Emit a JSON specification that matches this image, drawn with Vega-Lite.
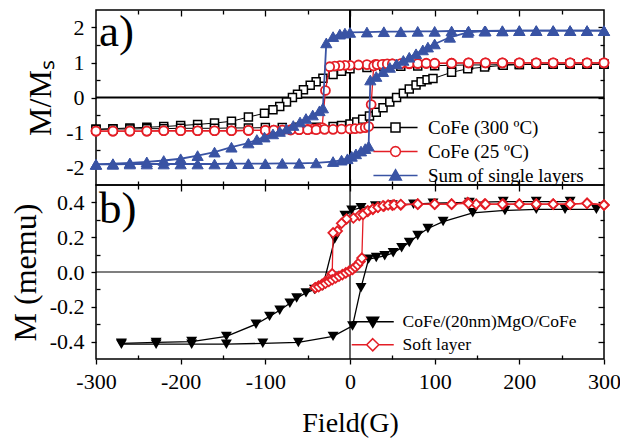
{
"$schema": "https://vega.github.io/schema/vega-lite/v6.json",
"background": "white",
"padding": {"left": 8, "top": 8, "right": 2, "bottom": 3},
"spacing": 0,
"bounds": "flush",
"config": {
  "view": {"stroke": "black", "strokeWidth": 1.5},
  "font": "Liberation Serif",
  "style": {"guide-label": {"font": "Liberation Serif"}, "guide-title": {"font": "Liberation Serif"}},
  "axis": {"grid": false, "domain": false, "tickColor": "black", "tickWidth": 1.3, "labelColor": "black", "labelFont": "Liberation Serif", "labelFontSize": 22, "labelFlush": false, "labelOverlap": false, "labelBound": false, "titleFont": "Liberation Serif", "titleFontWeight": "normal", "titleColor": "black"},
  "legend": {"labelFont": "Liberation Serif", "labelColor": "black", "labelLimit": 400}
},
"resolve": {"scale": {"color": "independent", "fill": "independent", "shape": "independent"}, "legend": {"color": "independent", "fill": "independent", "shape": "independent"}},
"vconcat": [
 {
  "width": 508, "height": 175,
  "resolve": {"axis": {"x": "independent", "y": "independent"}},
  "layer": [
   {"data": {"values": [{"z": 0}]}, "mark": {"type": "rule", "color": "black", "strokeWidth": 2},
    "encoding": {"y": {"field": "z", "type": "quantitative", "scale": {"domain": [-2.5, 2.5], "nice": false, "zero": false},
      "axis": {"orient": "right", "values": [-2,-1.5,-1,-0.5,0,0.5,1,1.5,2], "labels": false, "title": null, "tickSize": {"condition": {"test": "datum.value % 1 !== 0", "value": -4}, "value": -6}}}}},
   {"data": {"values": [{"z": 0}]}, "mark": {"type": "rule", "color": "black", "strokeWidth": 2},
    "encoding": {"x": {"field": "z", "type": "quantitative", "scale": {"domain": [-300, 300], "nice": false, "zero": false},
      "axis": {"orient": "top", "values": [-250,-200,-150,-100,-50,0,50,100,150,200,250], "labels": false, "title": null, "tickSize": {"condition": {"test": "datum.value % 100 !== 0", "value": -4}, "value": -6}}}}},
   {"data": {"values": [
{"s":"CoFe (300 ºC)","b":"d","x":300,"y":0.95},{"s":"CoFe (300 ºC)","b":"d","x":280,"y":0.95},{"s":"CoFe (300 ºC)","b":"d","x":260,"y":0.95},{"s":"CoFe (300 ºC)","b":"d","x":240,"y":0.95},{"s":"CoFe (300 ºC)","b":"d","x":220,"y":0.95},{"s":"CoFe (300 ºC)","b":"d","x":200,"y":0.94},{"s":"CoFe (300 ºC)","b":"d","x":180,"y":0.94},{"s":"CoFe (300 ºC)","b":"d","x":160,"y":0.93},{"s":"CoFe (300 ºC)","b":"d","x":140,"y":0.93},{"s":"CoFe (300 ºC)","b":"d","x":120,"y":0.92},{"s":"CoFe (300 ºC)","b":"d","x":100,"y":0.91},{"s":"CoFe (300 ºC)","b":"d","x":80,"y":0.9},{"s":"CoFe (300 ºC)","b":"d","x":60,"y":0.89},{"s":"CoFe (300 ºC)","b":"d","x":40,"y":0.88},{"s":"CoFe (300 ºC)","b":"d","x":20,"y":0.86},{"s":"CoFe (300 ºC)","b":"d","x":0,"y":0.82},{"s":"CoFe (300 ºC)","b":"d","x":-10,"y":0.75},{"s":"CoFe (300 ºC)","b":"d","x":-20,"y":0.66},{"s":"CoFe (300 ºC)","b":"d","x":-32,"y":0.55},{"s":"CoFe (300 ºC)","b":"d","x":-40,"y":0.45},{"s":"CoFe (300 ºC)","b":"d","x":-47,"y":0.35},{"s":"CoFe (300 ºC)","b":"d","x":-55,"y":0.22},{"s":"CoFe (300 ºC)","b":"d","x":-62,"y":0.09},{"s":"CoFe (300 ºC)","b":"d","x":-68,"y":0.0},{"s":"CoFe (300 ºC)","b":"d","x":-75,"y":-0.13},{"s":"CoFe (300 ºC)","b":"d","x":-83,"y":-0.26},{"s":"CoFe (300 ºC)","b":"d","x":-91,"y":-0.35},{"s":"CoFe (300 ºC)","b":"d","x":-101,"y":-0.45},{"s":"CoFe (300 ºC)","b":"d","x":-120,"y":-0.56},{"s":"CoFe (300 ºC)","b":"d","x":-140,"y":-0.68},{"s":"CoFe (300 ºC)","b":"d","x":-160,"y":-0.73},{"s":"CoFe (300 ºC)","b":"d","x":-180,"y":-0.77},{"s":"CoFe (300 ºC)","b":"d","x":-200,"y":-0.8},{"s":"CoFe (300 ºC)","b":"d","x":-220,"y":-0.83},{"s":"CoFe (300 ºC)","b":"d","x":-240,"y":-0.85},{"s":"CoFe (300 ºC)","b":"d","x":-260,"y":-0.87},{"s":"CoFe (300 ºC)","b":"d","x":-280,"y":-0.89},{"s":"CoFe (300 ºC)","b":"d","x":-300,"y":-0.91},
{"s":"CoFe (300 ºC)","b":"u","x":-300,"y":-0.91},{"s":"CoFe (300 ºC)","b":"u","x":-280,"y":-0.9},{"s":"CoFe (300 ºC)","b":"u","x":-260,"y":-0.9},{"s":"CoFe (300 ºC)","b":"u","x":-240,"y":-0.89},{"s":"CoFe (300 ºC)","b":"u","x":-220,"y":-0.89},{"s":"CoFe (300 ºC)","b":"u","x":-200,"y":-0.88},{"s":"CoFe (300 ºC)","b":"u","x":-180,"y":-0.88},{"s":"CoFe (300 ºC)","b":"u","x":-160,"y":-0.88},{"s":"CoFe (300 ºC)","b":"u","x":-140,"y":-0.87},{"s":"CoFe (300 ºC)","b":"u","x":-120,"y":-0.87},{"s":"CoFe (300 ºC)","b":"u","x":-100,"y":-0.86},{"s":"CoFe (300 ºC)","b":"u","x":-80,"y":-0.86},{"s":"CoFe (300 ºC)","b":"u","x":-60,"y":-0.85},{"s":"CoFe (300 ºC)","b":"u","x":-40,"y":-0.85},{"s":"CoFe (300 ºC)","b":"u","x":-20,"y":-0.83},{"s":"CoFe (300 ºC)","b":"u","x":-10,"y":-0.8},{"s":"CoFe (300 ºC)","b":"u","x":0,"y":-0.76},{"s":"CoFe (300 ºC)","b":"u","x":8,"y":-0.7},{"s":"CoFe (300 ºC)","b":"u","x":15,"y":-0.62},{"s":"CoFe (300 ºC)","b":"u","x":23,"y":-0.53},{"s":"CoFe (300 ºC)","b":"u","x":31,"y":-0.42},{"s":"CoFe (300 ºC)","b":"u","x":39,"y":-0.29},{"s":"CoFe (300 ºC)","b":"u","x":47,"y":-0.13},{"s":"CoFe (300 ºC)","b":"u","x":55,"y":0.0},{"s":"CoFe (300 ºC)","b":"u","x":63,"y":0.12},{"s":"CoFe (300 ºC)","b":"u","x":70,"y":0.24},{"s":"CoFe (300 ºC)","b":"u","x":78,"y":0.36},{"s":"CoFe (300 ºC)","b":"u","x":84,"y":0.45},{"s":"CoFe (300 ºC)","b":"u","x":91,"y":0.51},{"s":"CoFe (300 ºC)","b":"u","x":98,"y":0.54},{"s":"CoFe (300 ºC)","b":"u","x":120,"y":0.72},{"s":"CoFe (300 ºC)","b":"u","x":139,"y":0.82},{"s":"CoFe (300 ºC)","b":"u","x":159,"y":0.87},{"s":"CoFe (300 ºC)","b":"u","x":181,"y":0.92},{"s":"CoFe (300 ºC)","b":"u","x":200,"y":0.94},{"s":"CoFe (300 ºC)","b":"u","x":220,"y":0.95},{"s":"CoFe (300 ºC)","b":"u","x":240,"y":0.95},{"s":"CoFe (300 ºC)","b":"u","x":260,"y":0.95},{"s":"CoFe (300 ºC)","b":"u","x":280,"y":0.95},{"s":"CoFe (300 ºC)","b":"u","x":300,"y":0.95},
{"s":"CoFe (25 ºC)","b":"d","x":300,"y":0.99},{"s":"CoFe (25 ºC)","b":"d","x":280,"y":0.99},{"s":"CoFe (25 ºC)","b":"d","x":260,"y":0.99},{"s":"CoFe (25 ºC)","b":"d","x":240,"y":0.99},{"s":"CoFe (25 ºC)","b":"d","x":220,"y":0.99},{"s":"CoFe (25 ºC)","b":"d","x":200,"y":0.99},{"s":"CoFe (25 ºC)","b":"d","x":180,"y":0.99},{"s":"CoFe (25 ºC)","b":"d","x":160,"y":0.99},{"s":"CoFe (25 ºC)","b":"d","x":140,"y":0.99},{"s":"CoFe (25 ºC)","b":"d","x":120,"y":0.98},{"s":"CoFe (25 ºC)","b":"d","x":100,"y":0.97},{"s":"CoFe (25 ºC)","b":"d","x":90,"y":0.97},{"s":"CoFe (25 ºC)","b":"d","x":80,"y":0.97},{"s":"CoFe (25 ºC)","b":"d","x":70,"y":0.96},{"s":"CoFe (25 ºC)","b":"d","x":60,"y":0.96},{"s":"CoFe (25 ºC)","b":"d","x":50,"y":0.96},{"s":"CoFe (25 ºC)","b":"d","x":40,"y":0.95},{"s":"CoFe (25 ºC)","b":"d","x":30,"y":0.95},{"s":"CoFe (25 ºC)","b":"d","x":20,"y":0.94},{"s":"CoFe (25 ºC)","b":"d","x":10,"y":0.93},{"s":"CoFe (25 ºC)","b":"d","x":0,"y":0.92},{"s":"CoFe (25 ºC)","b":"d","x":-6,"y":0.92},{"s":"CoFe (25 ºC)","b":"d","x":-12,"y":0.91},{"s":"CoFe (25 ºC)","b":"d","x":-18,"y":0.9},{"s":"CoFe (25 ºC)","b":"d","x":-24,"y":0.88},{"s":"CoFe (25 ºC)","b":"d","x":-29,"y":0.2},{"s":"CoFe (25 ºC)","b":"d","x":-33,"y":-0.86},{"s":"CoFe (25 ºC)","b":"d","x":-38,"y":-0.89},{"s":"CoFe (25 ºC)","b":"d","x":-44,"y":-0.9},{"s":"CoFe (25 ºC)","b":"d","x":-50,"y":-0.91},{"s":"CoFe (25 ºC)","b":"d","x":-60,"y":-0.92},{"s":"CoFe (25 ºC)","b":"d","x":-70,"y":-0.92},{"s":"CoFe (25 ºC)","b":"d","x":-80,"y":-0.93},{"s":"CoFe (25 ºC)","b":"d","x":-90,"y":-0.93},{"s":"CoFe (25 ºC)","b":"d","x":-100,"y":-0.94},{"s":"CoFe (25 ºC)","b":"d","x":-120,"y":-0.94},{"s":"CoFe (25 ºC)","b":"d","x":-140,"y":-0.95},{"s":"CoFe (25 ºC)","b":"d","x":-160,"y":-0.95},{"s":"CoFe (25 ºC)","b":"d","x":-180,"y":-0.95},{"s":"CoFe (25 ºC)","b":"d","x":-200,"y":-0.95},{"s":"CoFe (25 ºC)","b":"d","x":-220,"y":-0.95},{"s":"CoFe (25 ºC)","b":"d","x":-240,"y":-0.96},{"s":"CoFe (25 ºC)","b":"d","x":-260,"y":-0.96},{"s":"CoFe (25 ºC)","b":"d","x":-280,"y":-0.96},{"s":"CoFe (25 ºC)","b":"d","x":-300,"y":-0.96},
{"s":"CoFe (25 ºC)","b":"u","x":-300,"y":-0.96},{"s":"CoFe (25 ºC)","b":"u","x":-280,"y":-0.96},{"s":"CoFe (25 ºC)","b":"u","x":-260,"y":-0.96},{"s":"CoFe (25 ºC)","b":"u","x":-240,"y":-0.96},{"s":"CoFe (25 ºC)","b":"u","x":-220,"y":-0.95},{"s":"CoFe (25 ºC)","b":"u","x":-200,"y":-0.95},{"s":"CoFe (25 ºC)","b":"u","x":-180,"y":-0.95},{"s":"CoFe (25 ºC)","b":"u","x":-160,"y":-0.95},{"s":"CoFe (25 ºC)","b":"u","x":-140,"y":-0.95},{"s":"CoFe (25 ºC)","b":"u","x":-120,"y":-0.94},{"s":"CoFe (25 ºC)","b":"u","x":-100,"y":-0.94},{"s":"CoFe (25 ºC)","b":"u","x":-90,"y":-0.93},{"s":"CoFe (25 ºC)","b":"u","x":-80,"y":-0.93},{"s":"CoFe (25 ºC)","b":"u","x":-70,"y":-0.93},{"s":"CoFe (25 ºC)","b":"u","x":-60,"y":-0.92},{"s":"CoFe (25 ºC)","b":"u","x":-50,"y":-0.92},{"s":"CoFe (25 ºC)","b":"u","x":-40,"y":-0.92},{"s":"CoFe (25 ºC)","b":"u","x":-30,"y":-0.91},{"s":"CoFe (25 ºC)","b":"u","x":-20,"y":-0.91},{"s":"CoFe (25 ºC)","b":"u","x":-10,"y":-0.9},{"s":"CoFe (25 ºC)","b":"u","x":0,"y":-0.9},{"s":"CoFe (25 ºC)","b":"u","x":6,"y":-0.89},{"s":"CoFe (25 ºC)","b":"u","x":12,"y":-0.88},{"s":"CoFe (25 ºC)","b":"u","x":18,"y":-0.86},{"s":"CoFe (25 ºC)","b":"u","x":22,"y":-0.83},{"s":"CoFe (25 ºC)","b":"u","x":25,"y":-0.2},{"s":"CoFe (25 ºC)","b":"u","x":28,"y":0.9},{"s":"CoFe (25 ºC)","b":"u","x":32,"y":0.94},{"s":"CoFe (25 ºC)","b":"u","x":38,"y":0.95},{"s":"CoFe (25 ºC)","b":"u","x":44,"y":0.96},{"s":"CoFe (25 ºC)","b":"u","x":50,"y":0.96},{"s":"CoFe (25 ºC)","b":"u","x":60,"y":0.97},{"s":"CoFe (25 ºC)","b":"u","x":70,"y":0.97},{"s":"CoFe (25 ºC)","b":"u","x":80,"y":0.97},{"s":"CoFe (25 ºC)","b":"u","x":90,"y":0.98},{"s":"CoFe (25 ºC)","b":"u","x":100,"y":0.98},{"s":"CoFe (25 ºC)","b":"u","x":120,"y":0.98},{"s":"CoFe (25 ºC)","b":"u","x":140,"y":0.99},{"s":"CoFe (25 ºC)","b":"u","x":160,"y":0.99},{"s":"CoFe (25 ºC)","b":"u","x":180,"y":0.99},{"s":"CoFe (25 ºC)","b":"u","x":200,"y":0.99},{"s":"CoFe (25 ºC)","b":"u","x":220,"y":0.99},{"s":"CoFe (25 ºC)","b":"u","x":240,"y":0.99},{"s":"CoFe (25 ºC)","b":"u","x":260,"y":0.99},{"s":"CoFe (25 ºC)","b":"u","x":280,"y":0.99},{"s":"CoFe (25 ºC)","b":"u","x":300,"y":0.99},
{"s":"Sum of single layers","b":"d","x":300,"y":1.91},{"s":"Sum of single layers","b":"d","x":280,"y":1.91},{"s":"Sum of single layers","b":"d","x":260,"y":1.91},{"s":"Sum of single layers","b":"d","x":240,"y":1.91},{"s":"Sum of single layers","b":"d","x":220,"y":1.91},{"s":"Sum of single layers","b":"d","x":200,"y":1.91},{"s":"Sum of single layers","b":"d","x":180,"y":1.9},{"s":"Sum of single layers","b":"d","x":160,"y":1.9},{"s":"Sum of single layers","b":"d","x":140,"y":1.9},{"s":"Sum of single layers","b":"d","x":120,"y":1.9},{"s":"Sum of single layers","b":"d","x":100,"y":1.89},{"s":"Sum of single layers","b":"d","x":80,"y":1.89},{"s":"Sum of single layers","b":"d","x":60,"y":1.88},{"s":"Sum of single layers","b":"d","x":40,"y":1.88},{"s":"Sum of single layers","b":"d","x":20,"y":1.87},{"s":"Sum of single layers","b":"d","x":0,"y":1.86},{"s":"Sum of single layers","b":"d","x":-6,"y":1.84},{"s":"Sum of single layers","b":"d","x":-12,"y":1.81},{"s":"Sum of single layers","b":"d","x":-20,"y":1.74},{"s":"Sum of single layers","b":"d","x":-28,"y":1.56},{"s":"Sum of single layers","b":"d","x":-32,"y":-0.3},{"s":"Sum of single layers","b":"d","x":-36,"y":-0.38},{"s":"Sum of single layers","b":"d","x":-44,"y":-0.5},{"s":"Sum of single layers","b":"d","x":-52,"y":-0.6},{"s":"Sum of single layers","b":"d","x":-59,"y":-0.7},{"s":"Sum of single layers","b":"d","x":-67,"y":-0.8},{"s":"Sum of single layers","b":"d","x":-75,"y":-0.9},{"s":"Sum of single layers","b":"d","x":-83,"y":-0.97},{"s":"Sum of single layers","b":"d","x":-91,"y":-1.04},{"s":"Sum of single layers","b":"d","x":-101,"y":-1.13},{"s":"Sum of single layers","b":"d","x":-110,"y":-1.2},{"s":"Sum of single layers","b":"d","x":-120,"y":-1.3},{"s":"Sum of single layers","b":"d","x":-140,"y":-1.42},{"s":"Sum of single layers","b":"d","x":-160,"y":-1.56},{"s":"Sum of single layers","b":"d","x":-180,"y":-1.66},{"s":"Sum of single layers","b":"d","x":-200,"y":-1.75},{"s":"Sum of single layers","b":"d","x":-220,"y":-1.8},{"s":"Sum of single layers","b":"d","x":-240,"y":-1.84},{"s":"Sum of single layers","b":"d","x":-260,"y":-1.87},{"s":"Sum of single layers","b":"d","x":-280,"y":-1.89},{"s":"Sum of single layers","b":"d","x":-300,"y":-1.91},
{"s":"Sum of single layers","b":"u","x":-300,"y":-1.91},{"s":"Sum of single layers","b":"u","x":-280,"y":-1.91},{"s":"Sum of single layers","b":"u","x":-260,"y":-1.9},{"s":"Sum of single layers","b":"u","x":-240,"y":-1.9},{"s":"Sum of single layers","b":"u","x":-220,"y":-1.9},{"s":"Sum of single layers","b":"u","x":-200,"y":-1.9},{"s":"Sum of single layers","b":"u","x":-180,"y":-1.9},{"s":"Sum of single layers","b":"u","x":-160,"y":-1.9},{"s":"Sum of single layers","b":"u","x":-140,"y":-1.89},{"s":"Sum of single layers","b":"u","x":-120,"y":-1.89},{"s":"Sum of single layers","b":"u","x":-100,"y":-1.89},{"s":"Sum of single layers","b":"u","x":-80,"y":-1.88},{"s":"Sum of single layers","b":"u","x":-60,"y":-1.88},{"s":"Sum of single layers","b":"u","x":-40,"y":-1.87},{"s":"Sum of single layers","b":"u","x":-20,"y":-1.83},{"s":"Sum of single layers","b":"u","x":-10,"y":-1.79},{"s":"Sum of single layers","b":"u","x":-3,"y":-1.75},{"s":"Sum of single layers","b":"u","x":2,"y":-1.68},{"s":"Sum of single layers","b":"u","x":7,"y":-1.61},{"s":"Sum of single layers","b":"u","x":13,"y":-1.53},{"s":"Sum of single layers","b":"u","x":18,"y":-1.46},{"s":"Sum of single layers","b":"u","x":22,"y":-1.39},{"s":"Sum of single layers","b":"u","x":24,"y":0.5},{"s":"Sum of single layers","b":"u","x":31,"y":0.6},{"s":"Sum of single layers","b":"u","x":39,"y":0.74},{"s":"Sum of single layers","b":"u","x":47,"y":0.86},{"s":"Sum of single layers","b":"u","x":55,"y":0.96},{"s":"Sum of single layers","b":"u","x":63,"y":1.06},{"s":"Sum of single layers","b":"u","x":70,"y":1.15},{"s":"Sum of single layers","b":"u","x":78,"y":1.25},{"s":"Sum of single layers","b":"u","x":86,"y":1.36},{"s":"Sum of single layers","b":"u","x":92,"y":1.44},{"s":"Sum of single layers","b":"u","x":100,"y":1.53},{"s":"Sum of single layers","b":"u","x":118,"y":1.72},{"s":"Sum of single layers","b":"u","x":139,"y":1.86},{"s":"Sum of single layers","b":"u","x":159,"y":1.9},{"s":"Sum of single layers","b":"u","x":180,"y":1.91},{"s":"Sum of single layers","b":"u","x":200,"y":1.91},{"s":"Sum of single layers","b":"u","x":220,"y":1.91},{"s":"Sum of single layers","b":"u","x":240,"y":1.91},{"s":"Sum of single layers","b":"u","x":260,"y":1.91},{"s":"Sum of single layers","b":"u","x":280,"y":1.91},{"s":"Sum of single layers","b":"u","x":300,"y":1.91}
    ]},
    "encoding": {
      "x": {"field": "x", "type": "quantitative", "scale": {"domain": [-300, 300], "nice": false, "zero": false},
        "axis": {"orient": "bottom", "values": [-250,-200,-150,-100,-50,0,50,100,150,200,250], "labels": false, "title": null, "tickSize": {"condition": {"test": "datum.value % 100 !== 0", "value": -4}, "value": -6}}},
      "y": {"field": "y", "type": "quantitative", "scale": {"domain": [-2.5, 2.5], "nice": false, "zero": false},
        "axis": {"orient": "left", "values": [-2,-1.5,-1,-0.5,0,0.5,1,1.5,2], "labelExpr": "datum.value % 1 !== 0 ? '' : (datum.value < 0 ? '-' : '') + abs(datum.value)", "tickSize": {"condition": {"test": "datum.value % 1 !== 0", "value": -4}, "value": 5}, "labelPadding": 7, "labelFont": "Liberation Serif", "labelFontSize": 22, "minExtent": 30, "maxExtent": 30, "title": "M/Mₛ", "titleFont": "Liberation Serif", "titleFontSize": 32, "titlePadding": 9}},
      "detail": {"field": "b"}
    },
    "layer": [
      {"transform": [{"filter": {"field": "s", "equal": "CoFe (300 ºC)"}}], "mark": {"type": "line", "color": "black", "strokeWidth": 1}},
      {"transform": [{"filter": {"field": "s", "equal": "CoFe (300 ºC)"}}], "mark": {"type": "point", "shape": "square", "size": 64, "filled": false, "fill": "white", "stroke": "black", "strokeWidth": 1.5, "opacity": 1}},
      {"transform": [{"filter": {"field": "s", "equal": "CoFe (25 ºC)"}}], "mark": {"type": "line", "color": "#e41e26", "strokeWidth": 1.3}},
      {"transform": [{"filter": {"field": "s", "equal": "CoFe (25 ºC)"}}], "mark": {"type": "point", "shape": "circle", "size": 80, "filled": false, "fill": "white", "stroke": "#e41e26", "strokeWidth": 1.8, "opacity": 1}},
      {"transform": [{"filter": {"field": "s", "equal": "Sum of single layers"}}], "mark": {"type": "line", "color": "#3953a4", "strokeWidth": 1.8}},
      {"transform": [{"filter": {"field": "s", "equal": "Sum of single layers"}}], "mark": {"type": "point", "shape": "triangle-up", "size": 125, "filled": false, "fill": "#3953a4", "stroke": "#3953a4", "strokeWidth": 1, "opacity": 1}},
      {"mark": {"type": "point", "filled": false, "opacity": 0},
       "encoding": {
        "color": {"field": "s", "type": "nominal", "scale": {"domain": ["CoFe (300 ºC)", "CoFe (25 ºC)", "Sum of single layers"], "range": ["black", "#e41e26", "#3953a4"]},
          "legend": {"title": null, "orient": "none", "legendX": 290, "legendY": 108, "padding": 0, "symbolSize": 81, "symbolStrokeWidth": 1.5, "symbolOffset": 0, "labelOffset": 23, "labelFontSize": 19, "rowPadding": 4, "symbolOpacity": 1}},
        "fill": {"field": "s", "type": "nominal", "scale": {"domain": ["CoFe (300 ºC)", "CoFe (25 ºC)", "Sum of single layers"], "range": ["white", "white", "#3953a4"]},
          "legend": {"title": null, "orient": "none", "legendX": 290, "legendY": 108, "padding": 0, "symbolSize": 81, "symbolStrokeWidth": 1.5, "symbolOffset": 0, "labelOffset": 23, "labelFontSize": 19, "rowPadding": 4, "symbolOpacity": 1}},
        "shape": {"field": "s", "type": "nominal", "scale": {"domain": ["CoFe (300 ºC)", "CoFe (25 ºC)", "Sum of single layers"], "range": ["M-4.9,0H-1M1,0H4.9M-1,-1H1V1H-1Z", "M-4.9,0H-1.1M1.1,0H4.9M1.1,0L0.95,0.55L0.55,0.95L0,1.1L-0.55,0.95L-0.95,0.55L-1.1,0L-0.95,-0.55L-0.55,-0.95L0,-1.1L0.55,-0.95L0.95,-0.55Z", "M-4.9,0H4.9M0,-1.3L1.3,1H-1.3Z"]},
          "legend": {"title": null, "orient": "none", "legendX": 290, "legendY": 108, "padding": 0, "symbolSize": 81, "symbolStrokeWidth": 1.5, "symbolOffset": 0, "labelOffset": 23, "labelFontSize": 19, "rowPadding": 4, "symbolOpacity": 1}}
       }}
    ]
   },
   {"data": {"values": [{"t": "a)"}]}, "mark": {"type": "text", "align": "left", "baseline": "alphabetic", "dx": 3, "dy": 36, "fontSize": 45, "font": "Liberation Serif", "color": "black"},
    "encoding": {"x": {"datum": -300, "type": "quantitative", "axis": null}, "y": {"datum": 2.5, "type": "quantitative", "axis": null}, "text": {"field": "t"}}}
  ]
 },
 {
  "width": 508, "height": 174,
  "resolve": {"axis": {"x": "independent", "y": "independent"}},
  "layer": [
   {"data": {"values": [{"z": 0}]}, "mark": {"type": "rule", "color": "black", "strokeWidth": 1.2},
    "encoding": {"y": {"field": "z", "type": "quantitative", "scale": {"domain": [-0.5, 0.5], "nice": false, "zero": false},
      "axis": {"orient": "right", "values": [-0.4,-0.3,-0.2,-0.1,0,0.1,0.2,0.3,0.4], "labels": false, "title": null, "tickSize": {"condition": {"test": "abs(round(datum.value * 10)) % 2 === 1", "value": -4}, "value": -6}}}}},
   {"data": {"values": [{"z": 0}]}, "mark": {"type": "rule", "color": "black", "strokeWidth": 1.2},
    "encoding": {"x": {"field": "z", "type": "quantitative", "scale": {"domain": [-300, 300], "nice": false, "zero": false},
      "axis": {"orient": "top", "values": [-250,-200,-150,-100,-50,0,50,100,150,200,250], "labels": false, "title": null, "tickSize": {"condition": {"test": "datum.value % 100 !== 0", "value": -4}, "value": -6}}}}},
   {"data": {"values": [
{"s":"CoFe/(20nm)MgO/CoFe","b":"d","x":260,"y":0.405},{"s":"CoFe/(20nm)MgO/CoFe","b":"d","x":220,"y":0.405},{"s":"CoFe/(20nm)MgO/CoFe","b":"d","x":181,"y":0.405},{"s":"CoFe/(20nm)MgO/CoFe","b":"d","x":141,"y":0.4},{"s":"CoFe/(20nm)MgO/CoFe","b":"d","x":98,"y":0.395},{"s":"CoFe/(20nm)MgO/CoFe","b":"d","x":75,"y":0.39},{"s":"CoFe/(20nm)MgO/CoFe","b":"d","x":50,"y":0.385},{"s":"CoFe/(20nm)MgO/CoFe","b":"d","x":30,"y":0.38},{"s":"CoFe/(20nm)MgO/CoFe","b":"d","x":13,"y":0.37},{"s":"CoFe/(20nm)MgO/CoFe","b":"d","x":2,"y":0.355},{"s":"CoFe/(20nm)MgO/CoFe","b":"d","x":-6,"y":0.325},{"s":"CoFe/(20nm)MgO/CoFe","b":"d","x":-18,"y":0.19},{"s":"CoFe/(20nm)MgO/CoFe","b":"d","x":-32,"y":-0.08},{"s":"CoFe/(20nm)MgO/CoFe","b":"d","x":-42,"y":-0.1},{"s":"CoFe/(20nm)MgO/CoFe","b":"d","x":-52,"y":-0.12},{"s":"CoFe/(20nm)MgO/CoFe","b":"d","x":-63,"y":-0.15},{"s":"CoFe/(20nm)MgO/CoFe","b":"d","x":-71,"y":-0.18},{"s":"CoFe/(20nm)MgO/CoFe","b":"d","x":-83,"y":-0.22},{"s":"CoFe/(20nm)MgO/CoFe","b":"d","x":-95,"y":-0.255},{"s":"CoFe/(20nm)MgO/CoFe","b":"d","x":-111,"y":-0.3},{"s":"CoFe/(20nm)MgO/CoFe","b":"d","x":-146,"y":-0.37},{"s":"CoFe/(20nm)MgO/CoFe","b":"d","x":-187,"y":-0.4},{"s":"CoFe/(20nm)MgO/CoFe","b":"d","x":-229,"y":-0.405},{"s":"CoFe/(20nm)MgO/CoFe","b":"d","x":-270,"y":-0.41},
{"s":"CoFe/(20nm)MgO/CoFe","b":"u","x":-270,"y":-0.415},{"s":"CoFe/(20nm)MgO/CoFe","b":"u","x":-229,"y":-0.415},{"s":"CoFe/(20nm)MgO/CoFe","b":"u","x":-187,"y":-0.415},{"s":"CoFe/(20nm)MgO/CoFe","b":"u","x":-146,"y":-0.415},{"s":"CoFe/(20nm)MgO/CoFe","b":"u","x":-103,"y":-0.41},{"s":"CoFe/(20nm)MgO/CoFe","b":"u","x":-61,"y":-0.405},{"s":"CoFe/(20nm)MgO/CoFe","b":"u","x":-20,"y":-0.37},{"s":"CoFe/(20nm)MgO/CoFe","b":"u","x":3,"y":-0.31},{"s":"CoFe/(20nm)MgO/CoFe","b":"u","x":13,"y":-0.09},{"s":"CoFe/(20nm)MgO/CoFe","b":"u","x":22,"y":0.074},{"s":"CoFe/(20nm)MgO/CoFe","b":"u","x":31,"y":0.083},{"s":"CoFe/(20nm)MgO/CoFe","b":"u","x":41,"y":0.093},{"s":"CoFe/(20nm)MgO/CoFe","b":"u","x":51,"y":0.11},{"s":"CoFe/(20nm)MgO/CoFe","b":"u","x":61,"y":0.14},{"s":"CoFe/(20nm)MgO/CoFe","b":"u","x":70,"y":0.17},{"s":"CoFe/(20nm)MgO/CoFe","b":"u","x":80,"y":0.21},{"s":"CoFe/(20nm)MgO/CoFe","b":"u","x":92,"y":0.25},{"s":"CoFe/(20nm)MgO/CoFe","b":"u","x":110,"y":0.29},{"s":"CoFe/(20nm)MgO/CoFe","b":"u","x":145,"y":0.34},{"s":"CoFe/(20nm)MgO/CoFe","b":"u","x":183,"y":0.354},{"s":"CoFe/(20nm)MgO/CoFe","b":"u","x":220,"y":0.36},{"s":"CoFe/(20nm)MgO/CoFe","b":"u","x":254,"y":0.36},{"s":"CoFe/(20nm)MgO/CoFe","b":"u","x":291,"y":0.36},
{"s":"Soft layer","b":"d","x":300,"y":0.385},{"s":"Soft layer","b":"d","x":280,"y":0.395},{"s":"Soft layer","b":"d","x":260,"y":0.39},{"s":"Soft layer","b":"d","x":240,"y":0.39},{"s":"Soft layer","b":"d","x":220,"y":0.39},{"s":"Soft layer","b":"d","x":200,"y":0.39},{"s":"Soft layer","b":"d","x":181,"y":0.39},{"s":"Soft layer","b":"d","x":159,"y":0.39},{"s":"Soft layer","b":"d","x":149,"y":0.39},{"s":"Soft layer","b":"d","x":139,"y":0.4},{"s":"Soft layer","b":"d","x":120,"y":0.39},{"s":"Soft layer","b":"d","x":100,"y":0.39},{"s":"Soft layer","b":"d","x":80,"y":0.39},{"s":"Soft layer","b":"d","x":60,"y":0.385},{"s":"Soft layer","b":"d","x":50,"y":0.383},{"s":"Soft layer","b":"d","x":40,"y":0.378},{"s":"Soft layer","b":"d","x":33,"y":0.372},{"s":"Soft layer","b":"d","x":27,"y":0.36},{"s":"Soft layer","b":"d","x":21,"y":0.348},{"s":"Soft layer","b":"d","x":15,"y":0.335},{"s":"Soft layer","b":"d","x":11,"y":0.325},{"s":"Soft layer","b":"d","x":4,"y":0.31},{"s":"Soft layer","b":"d","x":-4,"y":0.305},{"s":"Soft layer","b":"d","x":-10,"y":0.28},{"s":"Soft layer","b":"d","x":-15,"y":0.235},{"s":"Soft layer","b":"d","x":-20,"y":0.225},{"s":"Soft layer","b":"d","x":-21,"y":-0.01},{"s":"Soft layer","b":"d","x":-25,"y":-0.04},{"s":"Soft layer","b":"d","x":-29,"y":-0.055},{"s":"Soft layer","b":"d","x":-33,"y":-0.07},{"s":"Soft layer","b":"d","x":-37,"y":-0.08},{"s":"Soft layer","b":"d","x":-41,"y":-0.09},
{"s":"Soft layer","b":"u","x":-41,"y":-0.09},{"s":"Soft layer","b":"u","x":-37,"y":-0.085},{"s":"Soft layer","b":"u","x":-33,"y":-0.075},{"s":"Soft layer","b":"u","x":-29,"y":-0.065},{"s":"Soft layer","b":"u","x":-25,"y":-0.055},{"s":"Soft layer","b":"u","x":-21,"y":-0.045},{"s":"Soft layer","b":"u","x":-17,"y":-0.035},{"s":"Soft layer","b":"u","x":-13,"y":-0.025},{"s":"Soft layer","b":"u","x":-9,"y":-0.015},{"s":"Soft layer","b":"u","x":-5,"y":-0.005},{"s":"Soft layer","b":"u","x":-1,"y":0.005},{"s":"Soft layer","b":"u","x":3,"y":0.015},{"s":"Soft layer","b":"u","x":6,"y":0.028},{"s":"Soft layer","b":"u","x":9,"y":0.04},{"s":"Soft layer","b":"u","x":12,"y":0.06},{"s":"Soft layer","b":"u","x":14,"y":0.08},{"s":"Soft layer","b":"u","x":15.5,"y":0.33},{"s":"Soft layer","b":"u","x":21,"y":0.352},{"s":"Soft layer","b":"u","x":27,"y":0.362},{"s":"Soft layer","b":"u","x":33,"y":0.372},{"s":"Soft layer","b":"u","x":39,"y":0.38},{"s":"Soft layer","b":"u","x":45,"y":0.385},{"s":"Soft layer","b":"u","x":52,"y":0.386},{"s":"Soft layer","b":"u","x":60,"y":0.388},{"s":"Soft layer","b":"u","x":80,"y":0.39},{"s":"Soft layer","b":"u","x":100,"y":0.39},{"s":"Soft layer","b":"u","x":120,"y":0.39},{"s":"Soft layer","b":"u","x":140,"y":0.395},{"s":"Soft layer","b":"u","x":160,"y":0.39},{"s":"Soft layer","b":"u","x":180,"y":0.39},{"s":"Soft layer","b":"u","x":200,"y":0.39},{"s":"Soft layer","b":"u","x":220,"y":0.39},{"s":"Soft layer","b":"u","x":240,"y":0.39},{"s":"Soft layer","b":"u","x":260,"y":0.39},{"s":"Soft layer","b":"u","x":280,"y":0.395},{"s":"Soft layer","b":"u","x":300,"y":0.385}
    ]},
    "encoding": {
      "x": {"field": "x", "type": "quantitative", "scale": {"domain": [-300, 300], "nice": false, "zero": false},
        "axis": {"orient": "bottom", "values": [-300,-250,-200,-150,-100,-50,0,50,100,150,200,250,300], "labelExpr": "datum.value % 100 !== 0 ? '' : (datum.value < 0 ? '-' : '') + abs(datum.value)", "tickSize": {"condition": {"test": "datum.value % 100 !== 0", "value": -4}, "value": 5}, "labelPadding": 7, "labelFont": "Liberation Serif", "labelFontSize": 22, "title": "Field(G)", "titleFont": "Liberation Serif", "titleFontSize": 28, "titlePadding": 17}},
      "y": {"field": "y", "type": "quantitative", "scale": {"domain": [-0.5, 0.5], "nice": false, "zero": false},
        "axis": {"orient": "left", "values": [-0.4,-0.3,-0.2,-0.1,0,0.1,0.2,0.3,0.4], "labelExpr": "abs(round(datum.value * 10)) % 2 === 1 ? '' : (datum.value < -0.001 ? '-' : '') + format(abs(datum.value), '.1f')", "tickSize": {"condition": {"test": "abs(round(datum.value * 10)) % 2 === 1", "value": -4}, "value": 5}, "labelPadding": 7, "labelFont": "Liberation Serif", "labelFontSize": 22, "minExtent": 47, "maxExtent": 47, "title": "M (memu)", "titleFont": "Liberation Serif", "titleFontSize": 32, "titlePadding": 7}},
      "detail": {"field": "b"}
    },
    "layer": [
      {"transform": [{"filter": {"field": "s", "equal": "CoFe/(20nm)MgO/CoFe"}}], "mark": {"type": "line", "color": "black", "strokeWidth": 1.3}},
      {"transform": [{"filter": {"field": "s", "equal": "CoFe/(20nm)MgO/CoFe"}}], "mark": {"type": "point", "shape": "triangle-down", "size": 120, "filled": true, "color": "black", "opacity": 1}},
      {"transform": [{"filter": {"field": "s", "equal": "Soft layer"}}], "mark": {"type": "line", "color": "#e41e26", "strokeWidth": 1.3}},
      {"transform": [{"filter": {"field": "s", "equal": "Soft layer"}}], "mark": {"type": "point", "shape": "diamond", "size": 90, "filled": false, "fill": "white", "stroke": "#e41e26", "strokeWidth": 1.8, "opacity": 1}},
      {"mark": {"type": "point", "filled": false, "opacity": 0},
       "encoding": {
        "color": {"field": "s", "type": "nominal", "scale": {"domain": ["CoFe/(20nm)MgO/CoFe", "Soft layer"], "range": ["black", "#e41e26"]},
          "legend": {"title": null, "orient": "none", "legendX": 268, "legendY": 128, "padding": 0, "symbolSize": 81, "symbolStrokeWidth": 1.5, "symbolOffset": 0, "labelOffset": 21, "labelFontSize": 17.5, "labelLimit": 400, "rowPadding": 4, "symbolOpacity": 1}},
        "fill": {"field": "s", "type": "nominal", "scale": {"domain": ["CoFe/(20nm)MgO/CoFe", "Soft layer"], "range": ["black", "white"]},
          "legend": {"title": null, "orient": "none", "legendX": 268, "legendY": 128, "padding": 0, "symbolSize": 81, "symbolStrokeWidth": 1.5, "symbolOffset": 0, "labelOffset": 21, "labelFontSize": 17.5, "labelLimit": 400, "rowPadding": 4, "symbolOpacity": 1}},
        "shape": {"field": "s", "type": "nominal", "scale": {"domain": ["CoFe/(20nm)MgO/CoFe", "Soft layer"], "range": ["M-4.67,0H4.67M0,1.25L1.3,-1L-1.3,-1Z", "M-4.67,0H-1.35M1.35,0H4.67M0,-1.35L1.35,0L0,1.35L-1.35,0Z"]},
          "legend": {"title": null, "orient": "none", "legendX": 268, "legendY": 128, "padding": 0, "symbolSize": 81, "symbolStrokeWidth": 1.5, "symbolOffset": 0, "labelOffset": 21, "labelFontSize": 17.5, "labelLimit": 400, "rowPadding": 4, "symbolOpacity": 1}}
       }}
    ]
   },
   {"data": {"values": [{"t": "b)"}]}, "mark": {"type": "text", "align": "left", "baseline": "alphabetic", "dx": 3, "dy": 38, "fontSize": 45, "font": "Liberation Serif", "color": "black"},
    "encoding": {"x": {"datum": -300, "type": "quantitative", "axis": null}, "y": {"datum": 0.5, "type": "quantitative", "axis": null}, "text": {"field": "t"}}}
  ]
 }
]
}
